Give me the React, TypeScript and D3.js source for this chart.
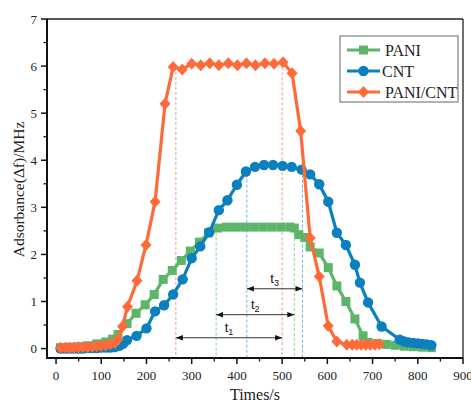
import React from "react";
import * as d3 from "d3";

const W = 471;
const H = 403;

// PANI (green squares)
const paniT = [10, 30, 50, 70, 90, 110, 125, 137, 157, 177, 197, 217, 237, 257, 277, 297, 317, 337, 357, 377, 397, 417, 437, 457, 477, 497, 517, 527, 537, 550, 562, 582, 602, 621, 641, 661, 679, 690, 710, 730, 750, 770, 790, 810, 830];
const paniV = [0.02, 0.03, 0.04, 0.06, 0.1, 0.14, 0.2, 0.3, 0.53, 0.75, 0.93, 1.15, 1.47, 1.66, 1.87, 2.07, 2.26, 2.46, 2.56, 2.58, 2.58, 2.58, 2.58, 2.58, 2.58, 2.58, 2.58, 2.56, 2.42, 2.36, 2.16, 2.03, 1.72, 1.33, 1.0, 0.63, 0.27, 0.13, 0.11, 0.09, 0.07, 0.05, 0.04, 0.03, 0.02];

// CNT (blue circles)
const cntT = [10, 20, 30, 40, 50, 60, 70, 80, 90, 100, 110, 120, 130, 140, 148, 157, 178, 200, 219, 239, 259, 280, 300, 319, 339, 360, 379, 400, 420, 440, 460, 480, 501, 521, 543, 562, 582, 602, 621, 641, 661, 672, 690, 720, 760, 770, 780, 790, 800, 810, 820, 830];
const cntV = [0.0, 0.0, 0.0, 0.0, 0.0, 0.0, 0.01, 0.01, 0.01, 0.02, 0.02, 0.02, 0.03, 0.06, 0.1, 0.18, 0.27, 0.43, 0.79, 0.92, 1.15, 1.47, 1.92, 2.17, 2.47, 2.94, 3.15, 3.48, 3.76, 3.86, 3.9, 3.9, 3.88, 3.86, 3.8, 3.7, 3.49, 3.12, 2.46, 2.2, 1.78, 1.4, 0.98, 0.47, 0.19, 0.15, 0.13, 0.12, 0.11, 0.1, 0.09, 0.07];

// PANI/CNT (orange diamonds)
const compT = [10, 20, 30, 40, 50, 60, 70, 80, 90, 100, 110, 120, 130, 137, 147, 158, 179, 199, 219, 241, 259, 279, 300, 320, 340, 360, 381, 401, 421, 441, 462, 482, 502, 522, 541, 562, 582, 602, 621, 643, 655, 665, 675, 685, 695, 705, 715];
const compV = [0.02, 0.02, 0.02, 0.02, 0.03, 0.03, 0.03, 0.04, 0.05, 0.06, 0.07, 0.09, 0.12, 0.2, 0.47, 0.89, 1.44, 2.2, 3.12, 5.2, 5.98, 5.93, 6.05, 6.02, 6.06, 6.02, 6.06, 6.02, 6.06, 6.02, 6.06, 6.05, 6.08, 5.85, 4.62, 2.35, 1.53, 0.48, 0.15, 0.08, 0.08, 0.08, 0.08, 0.08, 0.08, 0.08, 0.09];

const xTicks = [0, 100, 200, 300, 400, 500, 600, 700, 800, 900];
const yTicks = [0, 1, 2, 3, 4, 5, 6, 7];

// dashed guide lines: [time, top value, series]
const guideT = [265, 500, 354, 527, 422, 545];
const guideV = [5.98, 6.08, 2.57, 2.56, 3.8, 3.8];
const guideS = ["comp", "comp", "pani", "pani", "cnt", "cnt"];

// double arrows: start, end, level, label
const arrowStart = [265, 354, 422];
const arrowEnd = [500, 527, 545];
const arrowLevel = [0.23, 0.72, 1.27];
const arrowLabel = ["1", "2", "3"];

const GREEN = "#5db56a";
const BLUE = "#0b80bf";
const ORANGE = "#ff6a38";

const colors: Record<string, string> = { pani: GREEN, cnt: BLUE, comp: ORANGE };
const guideColors: Record<string, string> = { pani: "#8fd09a", cnt: "#6ab8e0", comp: "#f59a80" };

const left = 47, right = 463, top = 19, bottom = 358;

export default function App() {
  const x = d3.scaleLinear().domain([-20, 900]).range([left, right]);
  const y = d3.scaleLinear().domain([-0.2, 7]).range([bottom, top]);

  const mk = (ts: number[], vs: number[]) => ts.map((t, i) => [t, vs[i]] as [number, number]);
  const line = d3.line<[number, number]>().x((d) => x(d[0])).y((d) => y(d[1]));

  const pani = mk(paniT, paniV);
  const cnt = mk(cntT, cntV);
  const comp = mk(compT, compV);

  const xMinor = d3.range(-0, 901, 50).filter((v) => v % 100 !== 0);
  const yMinor = d3.range(0.5, 7, 1);

  const square = (cx: number, cy: number, c: string, k: string | number) => (
    <rect key={k} x={cx - 4.5} y={cy - 4.5} width={9} height={9} fill={c} />
  );
  const circle = (cx: number, cy: number, c: string, k: string | number) => (
    <circle key={k} cx={cx} cy={cy} r={5.2} fill={c} />
  );
  const diamond = (cx: number, cy: number, c: string, k: string | number) => (
    <path key={k} d={`M${cx},${cy - 6} L${cx + 5.5},${cy} L${cx},${cy + 6} L${cx - 5.5},${cy} Z`} fill={c} />
  );

  const serif = "'Liberation Serif', 'Times New Roman', serif";

  return (
    <svg width={W} height={H} style={{ position: "absolute", left: 0, top: 0, background: "#fff" }}>
      <rect x={0} y={0} width={W} height={H} fill="#fff" />
      {/* guide dashed lines */}
      {guideT.map((t, i) => (
        <line key={"g" + i} x1={x(t)} x2={x(t)} y1={y(guideV[i])} y2={bottom}
          stroke={guideColors[guideS[i]]} strokeWidth={1} strokeDasharray="3,2" />
      ))}
      {/* arrows */}
      <defs>
        <marker id="ah" viewBox="0 0 10 10" refX={10} refY={5} markerWidth={7} markerHeight={7} orient="auto-start-reverse" markerUnits="userSpaceOnUse">
          <path d="M0,1 L10,5 L0,9 Z" fill="#111" />
        </marker>
      </defs>
      {arrowStart.map((s, i) => (
        <g key={"a" + i}>
          <line x1={x(s)} x2={x(arrowEnd[i])} y1={y(arrowLevel[i])} y2={y(arrowLevel[i])}
            stroke="#333" strokeWidth={1} markerStart="url(#ah)" markerEnd="url(#ah)" />
          <text x={(x(s) + x(arrowEnd[i])) / 2} y={y(arrowLevel[i]) - 6} textAnchor="middle"
            fontFamily="'Liberation Sans', Arial, sans-serif" fontSize={13} fill="#111">
            t<tspan fontSize={9} dy={3}>{arrowLabel[i]}</tspan>
          </text>
        </g>
      ))}
      {/* series */}
      <path d={line(pani) || ""} fill="none" stroke={GREEN} strokeWidth={3.2} />
      {pani.map((d, i) => square(x(d[0]), y(d[1]), GREEN, "p" + i))}
      <path d={line(cnt) || ""} fill="none" stroke={BLUE} strokeWidth={3.2} />
      {cnt.map((d, i) => circle(x(d[0]), y(d[1]), BLUE, "c" + i))}
      <path d={line(comp) || ""} fill="none" stroke={ORANGE} strokeWidth={3.2} />
      {comp.map((d, i) => diamond(x(d[0]), y(d[1]), ORANGE, "o" + i))}

      {/* frame */}
      <line x1={left} x2={right} y1={top} y2={top} stroke="#222" strokeWidth={1.3} />
      <line x1={right} x2={right} y1={top} y2={bottom} stroke="#222" strokeWidth={1.3} />
      <line x1={left} x2={left} y1={top} y2={bottom + 1} stroke="#111" strokeWidth={2} />
      <line x1={left - 1} x2={right} y1={bottom} y2={bottom} stroke="#111" strokeWidth={2} />

      {/* x ticks */}
      {xTicks.map((t) => (
        <g key={"xt" + t}>
          <line x1={x(t)} x2={x(t)} y1={bottom} y2={bottom + 6} stroke="#111" strokeWidth={1.5} />
          <text x={x(t)} y={bottom + 22} textAnchor="middle" fontFamily={serif} fontSize={13} fill="#222">{t}</text>
        </g>
      ))}
      {xMinor.map((t) => (
        <line key={"xm" + t} x1={x(t)} x2={x(t)} y1={bottom} y2={bottom + 3.5} stroke="#111" strokeWidth={1.3} />
      ))}
      {/* y ticks */}
      {yTicks.map((v) => (
        <g key={"yt" + v}>
          <line x1={left} x2={left - 6} y1={y(v)} y2={y(v)} stroke="#111" strokeWidth={1.5} />
          <text x={left - 10} y={y(v) + 4.5} textAnchor="end" fontFamily={serif} fontSize={13} fill="#222">{v}</text>
        </g>
      ))}
      {yMinor.map((v) => (
        <line key={"ym" + v} x1={left} x2={left - 3.5} y1={y(v)} y2={y(v)} stroke="#111" strokeWidth={1.3} />
      ))}

      {/* axis titles */}
      <text x={(left + right) / 2} y={400} textAnchor="middle" fontFamily={serif} fontSize={16} fill="#222">Times/s</text>
      <text transform={`translate(24, ${(top + bottom) / 2 + 1}) rotate(-90)`} textAnchor="middle"
        fontFamily={serif} fontSize={15.5} fill="#222">Adsorbance(Δf)/MHz</text>

      {/* legend */}
      <rect x={340} y={36} width={118} height={66} fill="#fff" stroke="#666" strokeWidth={1} />
      {[
        { name: "PANI", c: GREEN, m: square, ty: 385 },
        { name: "CNT", c: BLUE, m: circle, ty: 382 },
        { name: "PANI/CNT", c: ORANGE, m: diamond, ty: 385 },
      ].map((e, i) => {
        const ly = 50 + i * 21;
        return (
          <g key={"l" + i}>
            <line x1={347} x2={380} y1={ly} y2={ly} stroke={e.c} strokeWidth={3.2} />
            {e.m(363.5, ly, e.c, "lm" + i)}
            <text x={e.ty} y={ly + 5.5} fontFamily={serif} fontSize={16} fill="#222">{e.name}</text>
          </g>
        );
      })}
    </svg>
  );
}
